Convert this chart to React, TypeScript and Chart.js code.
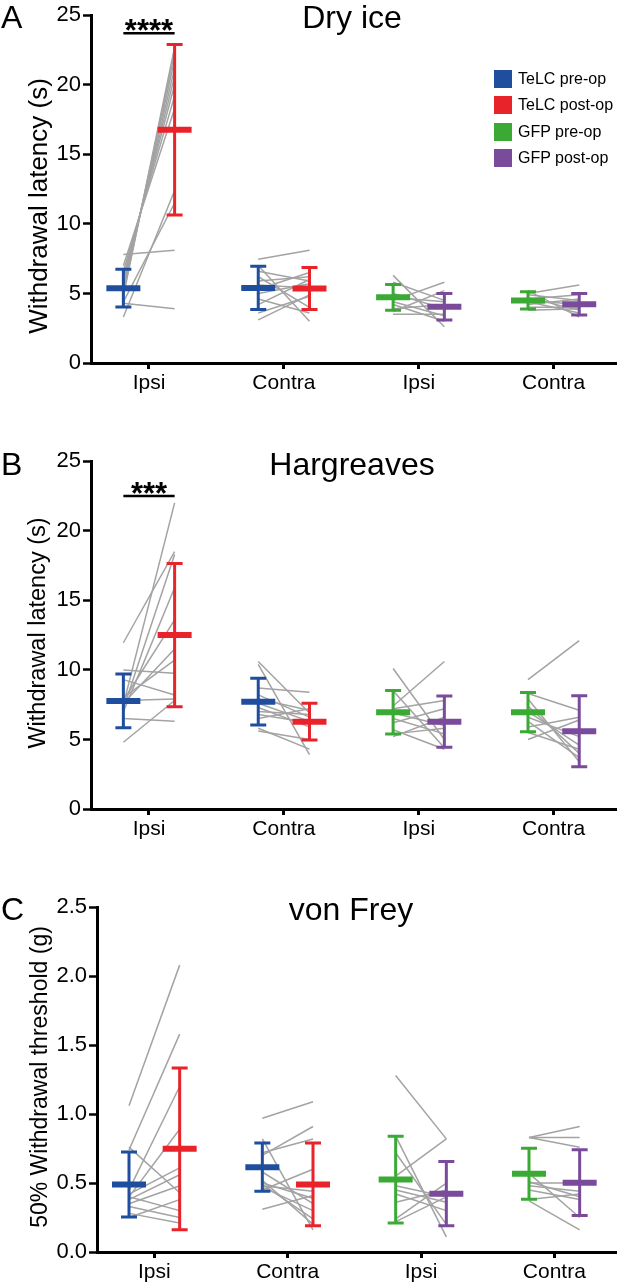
import React, { useEffect, useRef } from 'react';
import { Chart, registerables } from 'chart.js';

Chart.register(...registerables);

const FONT = '"Liberation Sans", Arial, Helvetica, sans-serif';

// ---------- labels ----------
const categories = ['Ipsi', 'Contra', 'Ipsi', 'Contra'];
const seriesNames = ['TeLC pre-op', 'TeLC post-op', 'GFP pre-op', 'GFP post-op'];
const seriesColors = ['#1f4e9e', '#e8232a', '#3aaa35', '#7a4b9b'];
const GRAY = '#a3a3a3';

// ---------- Dry ice (s): individual animals, per group [TeLC Ipsi, TeLC Contra, GFP Ipsi, GFP Contra] ----------
const dryIcePre = [
  [3.3, 4.4, 4.3, 7.8, 4.8, 5.0, 5.3, 5.6, 5.9, 6.2, 6.6, 7.0],
  [7.45, 7.0, 6.6, 6.2, 5.9, 5.6, 5.3, 5.0, 4.6, 4.2, 3.6, 3.1],
  [6.3, 5.8, 5.0, 4.7, 4.5, 4.4, 4.2, 3.9, 3.7, 3.5],
  [5.0, 5.2, 4.9, 4.7, 4.6, 4.5, 4.4, 4.2, 4.0, 3.8],
];
const dryIcePost = [
  [12.4, 11.5, 3.9, 8.1, 22.7, 22.3, 21.8, 21.2, 20.6, 20.0, 19.2, 18.3],
  [8.1, 3.0, 5.9, 4.0, 6.2, 5.4, 6.5, 5.7, 3.6, 6.0, 4.8, 4.9],
  [2.6, 4.5, 3.9, 4.4, 5.8, 3.4, 3.0, 4.2, 5.2, 3.5],
  [5.6, 3.3, 4.5, 3.8, 4.9, 4.2, 3.6, 4.6, 4.0, 3.9],
];
const dryIcePreMean = [5.38, 5.4, 4.72, 4.5];
const dryIcePreSD = [1.35, 1.55, 0.92, 0.62];
const dryIcePostMean = [16.77, 5.36, 4.04, 4.22];
const dryIcePostSD = [6.13, 1.51, 0.95, 0.77];

// ---------- Hargreaves (s) ----------
const hargPre = [
  [11.95, 7.5, 7.2, 7.0, 7.8, 7.6, 8.0, 10.0, 9.3, 7.8, 6.5, 4.8],
  [10.6, 10.4, 8.7, 8.2, 7.9, 7.6, 7.3, 7.0, 6.8, 6.5, 5.8, 5.6],
  [10.1, 7.4, 8.5, 7.2, 6.9, 6.5, 6.2, 5.7, 5.4, 5.2],
  [9.3, 8.3, 7.9, 7.4, 7.0, 6.6, 6.3, 5.9, 5.5, 5.0],
];
const hargPost = [
  [18.5, 22.0, 18.3, 15.9, 13.6, 11.5, 10.7, 9.75, 8.2, 7.9, 6.3, 7.8],
  [6.9, 3.9, 8.4, 6.6, 7.1, 6.3, 5.9, 6.8, 6.2, 7.2, 4.3, 5.0],
  [5.0, 10.6, 4.4, 7.8, 6.0, 5.4, 7.2, 4.3, 5.8, 6.6],
  [12.1, 7.1, 3.4, 4.0, 4.6, 5.2, 3.7, 6.6, 4.3, 6.4],
];
const hargPreMean = [7.77, 7.71, 6.95, 6.96];
const hargPreSD = [1.93, 1.68, 1.56, 1.41];
const hargPostMean = [12.5, 6.28, 6.28, 5.59];
const hargPostSD = [5.15, 1.32, 1.85, 2.55];

// ---------- von Frey (g) ----------
const vfPre = [
  [1.06, 0.74, 0.45, 0.4, 0.76, 0.42, 0.38, 0.35, 0.4, 0.33, 0.28, 0.25],
  [0.97, 0.7, 0.72, 0.82, 0.5, 0.49, 0.48, 0.47, 0.31, 0.58, 0.52, 0.45],
  [1.28, 0.55, 0.84, 0.72, 0.48, 0.45, 0.42, 0.36, 0.24, 0.22],
  [0.83, 0.83, 0.83, 0.51, 0.5, 0.57, 0.38, 0.37, 0.45, 0.48],
];
const vfPost = [
  [2.08, 1.58, 1.2, 0.89, 0.43, 0.61, 0.56, 0.48, 0.3, 0.25, 0.21, 0.38],
  [1.09, 0.91, 0.82, 0.16, 0.39, 0.24, 0.44, 0.3, 0.41, 0.35, 0.2, 0.6],
  [0.82, 0.82, 0.11, 0.2, 0.4, 0.36, 0.3, 0.45, 0.5, 0.4],
  [0.91, 0.83, 0.76, 0.4, 0.5, 0.25, 0.42, 0.16, 0.38, 0.44],
];
const vfPreMean = [0.489, 0.615, 0.525, 0.568];
const vfPreSD = [0.236, 0.175, 0.315, 0.185];
const vfPostMean = [0.748, 0.49, 0.423, 0.503];
const vfPostSD = [0.587, 0.3, 0.233, 0.238];

// y-axis ranges
const dryIceYMax = 25;
const hargYMax = 25;
const vfYMax = 2.5;

const X_MIN = -0.43;
const X_MAX = 3.47;
const X_OFF = 0.19;

type Panel = {
  pre: number[][];
  post: number[][];
  preMean: number[];
  preSD: number[];
  postMean: number[];
  postSD: number[];
  yMax: number;
  yStep: number;
  decimals: number;
  sig: { text: string; y: number } | null;
  axisX: number;
  xAxisHeight: number;
};

function makeErrorPlugin(p: Panel) {
  return {
    id: 'errorBars',
    afterDatasetsDraw(chart: any) {
      const { ctx } = chart;
      const x = chart.scales.x;
      const y = chart.scales.y;
      ctx.save();
      ctx.lineCap = 'butt';
      categories.forEach((_, g) => {
        const items: [number, number, number, string][] = [
          [p.preMean[g], p.preSD[g], -X_OFF, seriesColors[g < 2 ? 0 : 2]],
          [p.postMean[g], p.postSD[g], X_OFF, seriesColors[g < 2 ? 1 : 3]],
        ];
        items.forEach(([m, s, off, col]) => {
          const cx = x.getPixelForValue(g + off);
          const ym = y.getPixelForValue(m);
          const yt = y.getPixelForValue(m + s);
          const yb = y.getPixelForValue(m - s);
          ctx.strokeStyle = col;
          ctx.lineWidth = 3;
          ctx.beginPath();
          ctx.moveTo(cx, yt);
          ctx.lineTo(cx, yb);
          ctx.moveTo(cx - 8, yt);
          ctx.lineTo(cx + 8, yt);
          ctx.moveTo(cx - 8, yb);
          ctx.lineTo(cx + 8, yb);
          ctx.stroke();
          ctx.lineWidth = 6;
          ctx.beginPath();
          ctx.moveTo(cx - 17, ym);
          ctx.lineTo(cx + 17, ym);
          ctx.stroke();
        });
      });
      if (p.sig) {
        const x1 = x.getPixelForValue(-X_OFF);
        const x2 = x.getPixelForValue(X_OFF);
        const yy = y.getPixelForValue(p.sig.y);
        ctx.strokeStyle = '#000';
        ctx.lineWidth = 2.5;
        ctx.beginPath();
        ctx.moveTo(x1, yy);
        ctx.lineTo(x2, yy);
        ctx.stroke();
        ctx.fillStyle = '#000';
        ctx.font = `bold 31px ${FONT}`;
        ctx.textAlign = 'center';
        ctx.textBaseline = 'alphabetic';
        ctx.fillText(p.sig.text, (x1 + x2) / 2, yy + 8);
      }
      ctx.restore();
    },
  };
}

function PanelChart({ p, top, height }: { p: Panel; top: number; height: number }) {
  const ref = useRef<HTMLCanvasElement>(null);
  useEffect(() => {
    if (!ref.current) return;
    const datasets: any[] = [];
    p.pre.forEach((arr, g) =>
      arr.forEach((v, j) => {
        datasets.push({
          data: [
            { x: g - X_OFF, y: v },
            { x: g + X_OFF, y: p.post[g][j] },
          ],
          borderColor: GRAY,
          backgroundColor: GRAY,
          borderWidth: 1.5,
          pointRadius: 0,
          showLine: true,
          fill: false,
        });
      })
    );
    const chart = new Chart(ref.current, {
      type: 'scatter',
      data: { datasets },
      options: {
        animation: false,
        responsive: false,
        devicePixelRatio: 1,
        layout: { padding: { top: 15, left: 0, right: 0, bottom: 0 } },
        plugins: {
          legend: { display: false },
          tooltip: { enabled: false },
          title: { display: false },
        },
        scales: {
          x: {
            type: 'linear',
            min: X_MIN,
            max: X_MAX,
            afterBuildTicks: (s: any) => {
              s.ticks = categories.map((_, i) => ({ value: i }));
            },
            afterFit: (s: any) => {
              s.height = p.xAxisHeight;
            },
            ticks: {
              autoSkip: false,
              maxRotation: 0,
              padding: 2,
              color: '#000',
              font: { family: FONT, size: 21 },
              callback: (v: any) => categories[Math.round(Number(v))] ?? '',
            },
            grid: {
              drawOnChartArea: false,
              drawTicks: true,
              tickLength: 6,
              tickWidth: 3,
              tickColor: '#000',
            },
            border: { display: true, color: '#000', width: 3 },
          },
          y: {
            type: 'linear',
            min: 0,
            max: p.yMax,
            afterFit: (s: any) => {
              s.width = p.axisX;
            },
            ticks: {
              stepSize: p.yStep,
              padding: 2,
              color: '#000',
              font: { family: FONT, size: 22 },
              callback: (v: any) => Number(v).toFixed(p.decimals),
            },
            grid: {
              drawOnChartArea: false,
              drawTicks: true,
              tickLength: 8,
              tickWidth: 2.5,
              tickColor: '#000',
            },
            border: { display: true, color: '#000', width: 3 },
          },
        },
      } as any,
      plugins: [makeErrorPlugin(p)],
    });
    return () => chart.destroy();
  }, []);
  return (
    <canvas
      ref={ref}
      width={617}
      height={height}
      style={{ position: 'absolute', left: 0, top, width: 617, height }}
    />
  );
}

const panelA: Panel = {
  pre: dryIcePre, post: dryIcePost,
  preMean: dryIcePreMean, preSD: dryIcePreSD, postMean: dryIcePostMean, postSD: dryIcePostSD,
  yMax: dryIceYMax, yStep: 5, decimals: 0,
  sig: { text: '****', y: 23.7 },
  axisX: 91, xAxisHeight: 37,
};
const panelB: Panel = {
  pre: hargPre, post: hargPost,
  preMean: hargPreMean, preSD: hargPreSD, postMean: hargPostMean, postSD: hargPostSD,
  yMax: hargYMax, yStep: 5, decimals: 0,
  sig: { text: '***', y: 22.5 },
  axisX: 91, xAxisHeight: 37,
};
const panelC: Panel = {
  pre: vfPre, post: vfPost,
  preMean: vfPreMean, preSD: vfPreSD, postMean: vfPostMean, postSD: vfPostSD,
  yMax: vfYMax, yStep: 0.5, decimals: 1,
  sig: null,
  axisX: 97, xAxisHeight: 35,
};

const txt = (style: React.CSSProperties): React.CSSProperties => ({
  position: 'absolute',
  fontFamily: FONT,
  color: '#000',
  whiteSpace: 'nowrap',
  lineHeight: 1,
  ...style,
});

function YTitle({ text, cx, cy, size }: { text: string; cx: number; cy: number; size: number }) {
  return (
    <div
      style={txt({
        left: cx,
        top: cy,
        fontSize: size,
        transform: 'translate(-50%, -50%) rotate(-90deg)',
      })}
    >
      {text}
    </div>
  );
}

export default function App() {
  return (
    <div
      style={{
        position: 'absolute',
        left: 0,
        top: 0,
        width: 617,
        height: 1287,
        background: '#fff',
        overflow: 'hidden',
      }}
    >
      <PanelChart p={panelA} top={0} height={400} />
      <PanelChart p={panelB} top={446} height={400} />
      <PanelChart p={panelC} top={892} height={395} />

      {/* panel letters */}
      <div style={txt({ left: 1, top: 28 - 27, fontSize: 32 })}>A</div>
      <div style={txt({ left: 1, top: 475 - 27, fontSize: 32 })}>B</div>
      <div style={txt({ left: 1, top: 920 - 27, fontSize: 32 })}>C</div>

      {/* titles */}
      <div style={txt({ left: 352, top: 28 - 27, fontSize: 32, transform: 'translateX(-50%)' })}>Dry ice</div>
      <div style={txt({ left: 352, top: 475 - 27, fontSize: 32, transform: 'translateX(-50%)' })}>Hargreaves</div>
      <div style={txt({ left: 351, top: 920 - 27, fontSize: 32, transform: 'translateX(-50%)' })}>von Frey</div>

      {/* y titles */}
      <YTitle text="Withdrawal latency (s)" cx={38} cy={206} size={26} />
      <YTitle text="Withdrawal latency (s)" cx={38} cy={633} size={23.5} />
      <YTitle text="50% Withdrawal threshold (g)" cx={39} cy={1077} size={23} />

      {/* legend */}
      {seriesNames.map((name, i) => (
        <div key={name} style={{ position: 'absolute', left: 494, top: 70 + i * 26.3, height: 18, display: 'flex', alignItems: 'center' }}>
          <div style={{ width: 18, height: 18, background: seriesColors[i] }} />
          <div style={{ marginLeft: 6, fontFamily: FONT, fontSize: 16, color: '#000', whiteSpace: 'nowrap', lineHeight: 1 }}>{name}</div>
        </div>
      ))}
    </div>
  );
}
